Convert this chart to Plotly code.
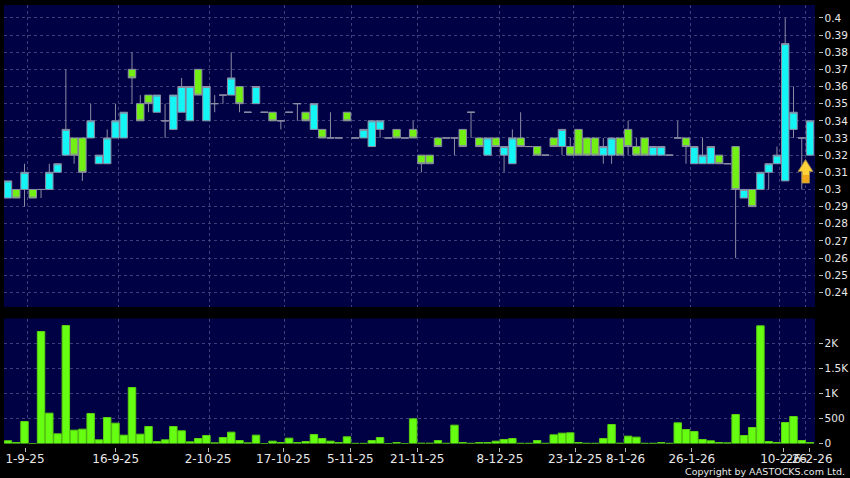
import plotly.graph_objects as go

W, H = 850, 478

open_ = [0.295,0.30,0.30,0.30,0.30,0.30,0.31,0.32,0.33,0.33,0.33,0.315,0.315,0.33,0.33,0.37,0.35,0.355,0.345,0.34,
         0.335,0.345,0.34,0.37,0.34,0.35,0.355,0.355,0.36,0.345,0.35,0.345,0.345,0.34,0.345,0.35,0.345,0.335,0.335,0.33,
         0.33,0.345,0.33,0.33,0.325,0.335,0.33,0.335,0.33,0.335,0.32,0.32,0.33,0.33,0.33,0.335,0.345,0.33,0.32,0.33,
         0.32,0.315,0.33,0.325,0.325,0.32,0.33,0.325,0.325,0.335,0.33,0.33,0.32,0.32,0.33,0.335,0.325,0.33,0.32,0.32,
         0.32,0.33,0.33,0.315,0.315,0.315,0.32,0.315,0.325,0.295,0.30,0.30,0.31,0.315,0.305,0.335,0.33,0.32]
high = [0.305,0.30,0.315,0.30,0.30,0.315,0.315,0.37,0.33,0.33,0.35,0.32,0.335,0.35,0.345,0.38,0.355,0.355,0.355,0.35,
        0.355,0.365,0.36,0.37,0.36,0.355,0.355,0.38,0.36,0.345,0.36,0.345,0.345,0.34,0.345,0.35,0.345,0.35,0.335,0.345,
        0.33,0.345,0.33,0.335,0.34,0.34,0.33,0.335,0.33,0.34,0.32,0.32,0.33,0.33,0.33,0.335,0.345,0.33,0.33,0.33,
        0.325,0.335,0.345,0.325,0.325,0.32,0.33,0.335,0.33,0.335,0.33,0.33,0.33,0.33,0.33,0.34,0.33,0.33,0.325,0.325,
        0.32,0.34,0.33,0.325,0.33,0.325,0.32,0.315,0.325,0.30,0.30,0.31,0.315,0.325,0.40,0.36,0.33,0.34]
low = [0.295,0.295,0.29,0.295,0.295,0.30,0.31,0.32,0.315,0.305,0.33,0.315,0.315,0.33,0.33,0.35,0.34,0.345,0.345,0.33,
       0.335,0.345,0.34,0.355,0.34,0.345,0.35,0.355,0.345,0.345,0.35,0.345,0.34,0.335,0.345,0.34,0.34,0.335,0.33,0.33,
       0.33,0.34,0.33,0.33,0.325,0.33,0.33,0.33,0.33,0.33,0.31,0.315,0.325,0.33,0.32,0.325,0.33,0.325,0.32,0.325,
       0.31,0.315,0.325,0.325,0.32,0.32,0.325,0.32,0.32,0.32,0.32,0.32,0.315,0.315,0.32,0.32,0.32,0.32,0.32,0.32,
       0.32,0.33,0.315,0.315,0.315,0.315,0.315,0.315,0.26,0.295,0.29,0.30,0.30,0.315,0.305,0.33,0.30,0.32]
close = [0.305,0.295,0.31,0.295,0.30,0.31,0.315,0.335,0.32,0.31,0.34,0.32,0.33,0.34,0.345,0.365,0.34,0.35,0.355,0.34,
         0.355,0.36,0.36,0.355,0.36,0.35,0.355,0.365,0.35,0.345,0.36,0.345,0.34,0.34,0.345,0.35,0.34,0.35,0.33,0.33,
         0.33,0.34,0.33,0.335,0.34,0.34,0.33,0.33,0.33,0.33,0.315,0.315,0.325,0.33,0.33,0.325,0.345,0.325,0.33,0.325,
         0.325,0.33,0.325,0.325,0.32,0.32,0.325,0.335,0.32,0.32,0.32,0.32,0.325,0.33,0.32,0.325,0.32,0.32,0.325,0.325,
         0.32,0.33,0.325,0.325,0.32,0.325,0.315,0.315,0.30,0.30,0.29,0.31,0.315,0.32,0.385,0.345,0.33,0.34]
volume = [55,20,440,0,2240,607,193,2360,267,287,600,73,520,407,167,1120,187,340,40,73,
          340,253,33,100,160,13,120,227,60,13,167,0,47,20,107,20,40,180,100,47,
          20,133,3,3,60,120,0,20,0,493,7,7,60,5,367,20,5,20,20,47,
          80,100,5,5,60,5,173,207,213,20,5,5,100,380,7,147,127,5,5,20,
          5,413,280,240,80,53,20,13,580,160,320,2353,40,20,420,540,60,20]

tick_labels = ["1-9-25","16-9-25","2-10-25","17-10-25","5-11-25","21-11-25","8-12-25",
               "23-12-25","8-1-26","26-1-26","10-2-26","26-2-26"]
tick_index = [2.06,13.03,24.2,33.3,41.4,49.5,59.5,68.6,74.7,82.7,93.8,96.9]
grid_index = [2.42,13.4,24.4,33.5,41.5,49.5,59.4,68.4,74.4,82.5,93.35,96.5]
price_ticks = [0.24,0.25,0.26,0.27,0.28,0.29,0.30,0.31,0.32,0.33,0.34,0.35,0.36,0.37,0.38,0.39,0.40]
price_labels = ["0.24","0.25","0.26","0.27","0.28","0.29","0.3","0.31","0.32","0.33","0.34","0.35",
                "0.36","0.37","0.38","0.39","0.4"]
vol_ticks = [0,500,1000,1500,2000]
vol_labels = ["0","500","1K","1.5K","2K"]

x = list(range(len(close)))

BLACK = "#000000"
NAVY = "#000044"
CYAN = "#14f5f5"
GREEN = "#72f014"
GRID = "#3e3e78"
WICK = "#8c8ca4"
TXT = "#e8e8e8"
GDASH = "3px,3px"

def px(v): return v / W
def py(v): return 1 - v / H

fig = go.Figure()
fig.add_trace(go.Candlestick(
    x=x, open=open_, high=high, low=low, close=close,
    whiskerwidth=0,
    increasing=dict(fillcolor=CYAN, line=dict(color=WICK, width=1)),
    decreasing=dict(fillcolor=GREEN, line=dict(color=WICK, width=1)),
    xaxis="x", yaxis="y", showlegend=False, hoverinfo="skip"))
fig.add_trace(go.Bar(
    x=x, y=volume, width=0.9,
    marker=dict(color="#66ff11", line=dict(color="#5ad010", width=1)),
    xaxis="x2", yaxis="y2", showlegend=False, hoverinfo="skip"))

x_common = dict(range=[-0.48, 97.6], domain=[px(4), px(815)], zeroline=False, showline=False,
                rangeslider=dict(visible=False), fixedrange=True)
minor = dict(tickmode="array", tickvals=grid_index, showgrid=True, gridcolor=GRID, griddash=GDASH,
             gridwidth=1, ticks="", ticklen=0)

y_tick = dict(side="right", anchor="free", position=px(817.5), ticks="outside", ticklen=4, tickwidth=1,
              tickcolor="#b8b8b8", gridcolor=GRID, griddash=GDASH, gridwidth=1, zeroline=False,
              showline=False, tickfont=dict(family="DejaVu Sans", size=10.5, color=TXT), fixedrange=True)

fig.update_layout(
    width=W, height=H, autosize=False,
    margin=dict(l=0, r=0, t=0, b=0, pad=0, autoexpand=False),
    paper_bgcolor=BLACK, plot_bgcolor=NAVY,
    boxgap=0.1, boxgroupgap=0, bargap=0.1,
    showlegend=False,
    xaxis=dict(x_common, anchor="y", showticklabels=False, ticks="", tickmode="array", tickvals=[],
               showgrid=False, minor=minor),
    xaxis2=dict(x_common, anchor="free", position=py(446.5), side="bottom", tickmode="array",
                tickvals=tick_index, ticktext=tick_labels, ticks="outside", ticklen=4, tickwidth=1,
                tickcolor="#b8b8b8", showgrid=False, minor=minor, tickangle=0, ticklabelstandoff=-3,
                tickfont=dict(family="DejaVu Sans", size=12, color=TXT)),
    yaxis=dict(y_tick, domain=[py(307), py(5)], range=[0.2315, 0.4075], tickmode="array",
               tickvals=price_ticks, ticktext=price_labels),
    yaxis2=dict(y_tick, domain=[py(443.5), py(318.5)], range=[0, 2500], tickmode="array",
                tickvals=vol_ticks, ticktext=vol_labels),
    annotations=[dict(text="Copyright by AASTOCKS.com Ltd.", xref="paper", yref="paper",
                      x=px(847), y=py(471), xanchor="right", yanchor="middle", showarrow=False,
                      font=dict(family="DejaVu Sans", size=9.5, color=TXT))],
    shapes=[dict(type="path", xref="paper", yref="paper", layer="above",
                 path=(f"M {px(805.5)} {py(159.5)} L {px(813)} {py(171.5)} L {px(809.5)} {py(171.5)} "
                       f"L {px(809.5)} {py(183)} L {px(802)} {py(183)} L {px(802)} {py(171.5)} "
                       f"L {px(798)} {py(171.5)} Z"),
                 fillcolor="#ffd23a", line=dict(color="#8a7a50", width=1)),
            dict(type="path", xref="paper", yref="paper", layer="above",
                 path=(f"M {px(802.5)} {py(175)} L {px(809)} {py(175)} L {px(809)} {py(182.5)} "
                       f"L {px(802.5)} {py(182.5)} Z"),
                 fillcolor="#f0a818", line=dict(width=0))],
)

fig.write_html("out.html", config=dict(displayModeBar=False),
               post_script="document.body.style.margin='0';document.body.style.background='#000';")
